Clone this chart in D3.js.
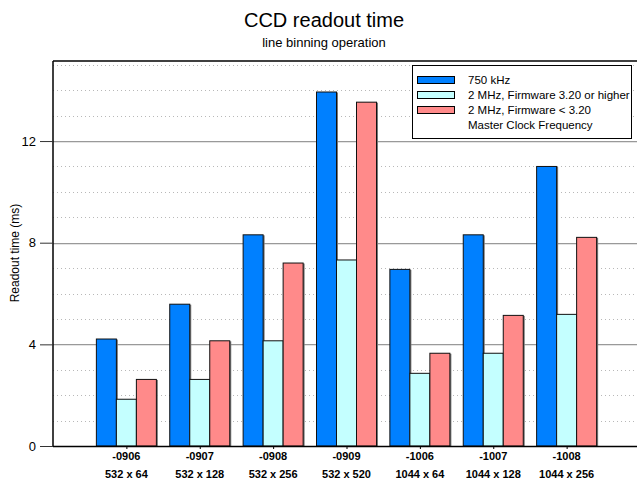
<!DOCTYPE html>
<html><head><meta charset="utf-8">
<script src="https://cdn.jsdelivr.net/npm/d3@7"></script>
<style>body{margin:0;background:#fff}svg{display:block}text{font-family:Arial,"Liberation Sans",sans-serif}</style>
</head><body>
<svg id="c" width="637" height="484"></svg>
<script>
const categories = ["-0906","-0907","-0908","-0909","-1006","-1007","-1008"];
const sizes = ["532 x 64","532 x 128","532 x 256","532 x 520","1044 x 64","1044 x 128","1044 x 256"];
const series = ["750 kHz","2 MHz, Firmware 3.20 or higher","2 MHz, Firmware < 3.20"];
const v750 = [4.21,5.58,8.31,13.93,6.95,8.31,11.0];
const v2new = [1.84,2.62,4.14,7.32,2.86,3.65,5.18];
const v2old = [2.62,4.14,7.2,13.53,3.65,5.14,8.21];
const majorTicks = [0,4,8,12];
const minorTicks = [1,2,3,5,6,7,9,10,11,13,14,15];
const colors = ["#0080ff","#c4ffff","#ff8a8a"];

const svg = d3.select("#c");
const L = 53, R = 640, T = 61, B = 446;
const x = d3.scaleLinear().domain([0, categories.length + 1]).range([L, R]);
const y = d3.scaleLinear().domain([0, 15.15]).range([B, T]);

// title
svg.append("text").attr("x",324).attr("y",27).attr("text-anchor","middle").attr("font-size",20).text("CCD readout time");
svg.append("text").attr("x",324).attr("y",47).attr("text-anchor","middle").attr("font-size",13).text("line binning operation");

// minor grid
svg.append("g").selectAll("line").data(minorTicks).join("line")
  .attr("x1",L).attr("x2",637).attr("y1",d=>Math.round(y(d))+0.5).attr("y2",d=>Math.round(y(d))+0.5)
  .attr("stroke","#b8b8b8").attr("stroke-dasharray","1,3");
// major grid
const mg = svg.append("g");
mg.selectAll("line.s").data(majorTicks.slice(1)).join("line")
  .attr("x1",L).attr("x2",637).attr("y1",d=>Math.round(y(d))+1.5).attr("y2",d=>Math.round(y(d))+1.5)
  .attr("stroke","#e4e4e4");
mg.selectAll("line.m").data(majorTicks.slice(1)).join("line")
  .attr("x1",L).attr("x2",637).attr("y1",d=>Math.round(y(d))+0.5).attr("y2",d=>Math.round(y(d))+0.5)
  .attr("stroke","#999");

// bars
const bw = 0.2726;
const data = [];
categories.forEach((c,i)=>{
  [v750,v2new,v2old].forEach((arr,s)=>{
    data.push({i, s, v: arr[i]});
  });
});
const bx = d => x(d.i + 1 - 1.5*bw + d.s*bw);
const bwp = x(bw) - x(0);
svg.append("g").selectAll("rect").data(data).join("rect")
  .attr("x", d=>bx(d)+1.5).attr("y", d=>y(d.v)+0.5).attr("width", bwp).attr("height", d=>y(0)-y(d.v))
  .attr("fill","#777");
svg.append("g").selectAll("rect").data(data).join("rect")
  .attr("x", d=>bx(d)).attr("y", d=>y(d.v)).attr("width", bwp).attr("height", d=>y(0)-y(d.v))
  .attr("fill", d=>colors[d.s]).attr("stroke","#111").attr("stroke-width",1);

// frame
svg.append("line").attr("x1",L).attr("x2",637).attr("y1",T).attr("y2",T).attr("stroke","#000").attr("stroke-width",1.5);
svg.append("line").attr("x1",L).attr("x2",L).attr("y1",T).attr("y2",B).attr("stroke","#000").attr("stroke-width",1.5);

// y axis
const ya = svg.append("g").attr("transform",`translate(${L},0)`)
  .call(d3.axisLeft(y).tickValues(majorTicks).tickFormat(d3.format("d")).tickSize(13).tickPadding(4));
ya.select(".domain").remove();
ya.selectAll(".tick line").attr("stroke","#333");
ya.selectAll("text").attr("font-size",13).attr("font-family","Arial, 'Liberation Sans', sans-serif").attr("fill","#000");

// x axis
const xa = svg.append("g").attr("transform",`translate(0,${B})`)
  .call(d3.axisBottom(x).tickValues(d3.range(1,categories.length+1)).tickSize(3).tickFormat(""));
xa.select(".domain").attr("d",`M${L},0.5H637`).attr("stroke","#000").attr("stroke-width",1.5);
xa.selectAll(".tick line").attr("stroke","#000");
const lab = svg.append("g").selectAll("g").data(categories).join("g")
  .attr("transform",(d,i)=>`translate(${x(i+1)},0)`);
lab.append("text").attr("y",460).attr("text-anchor","middle").attr("font-size",11).attr("font-weight","bold").text(d=>d);
lab.append("text").attr("y",478).attr("text-anchor","middle").attr("font-size",11).attr("font-weight","bold").text((d,i)=>sizes[i]);

// y label
svg.append("text").attr("transform","translate(19,253) rotate(-90)").attr("text-anchor","middle").attr("font-size",12).text("Readout time (ms)");

// legend
const lg = svg.append("g");
lg.append("rect").attr("x",412.5).attr("y",65.5).attr("width",219).attr("height",73).attr("fill","#fff").attr("stroke","#000");
series.forEach((s,k)=>{
  lg.append("rect").attr("x",417.5).attr("y",76.5+k*15).attr("width",37).attr("height",7).attr("fill",colors[k]).attr("stroke","#000");
  lg.append("text").attr("x",468).attr("y",84+k*15).attr("font-size",11.5).text(s);
});
lg.append("text").attr("x",468).attr("y",129).attr("font-size",11.5).text("Master Clock Frequency");
</script>
</body></html>
